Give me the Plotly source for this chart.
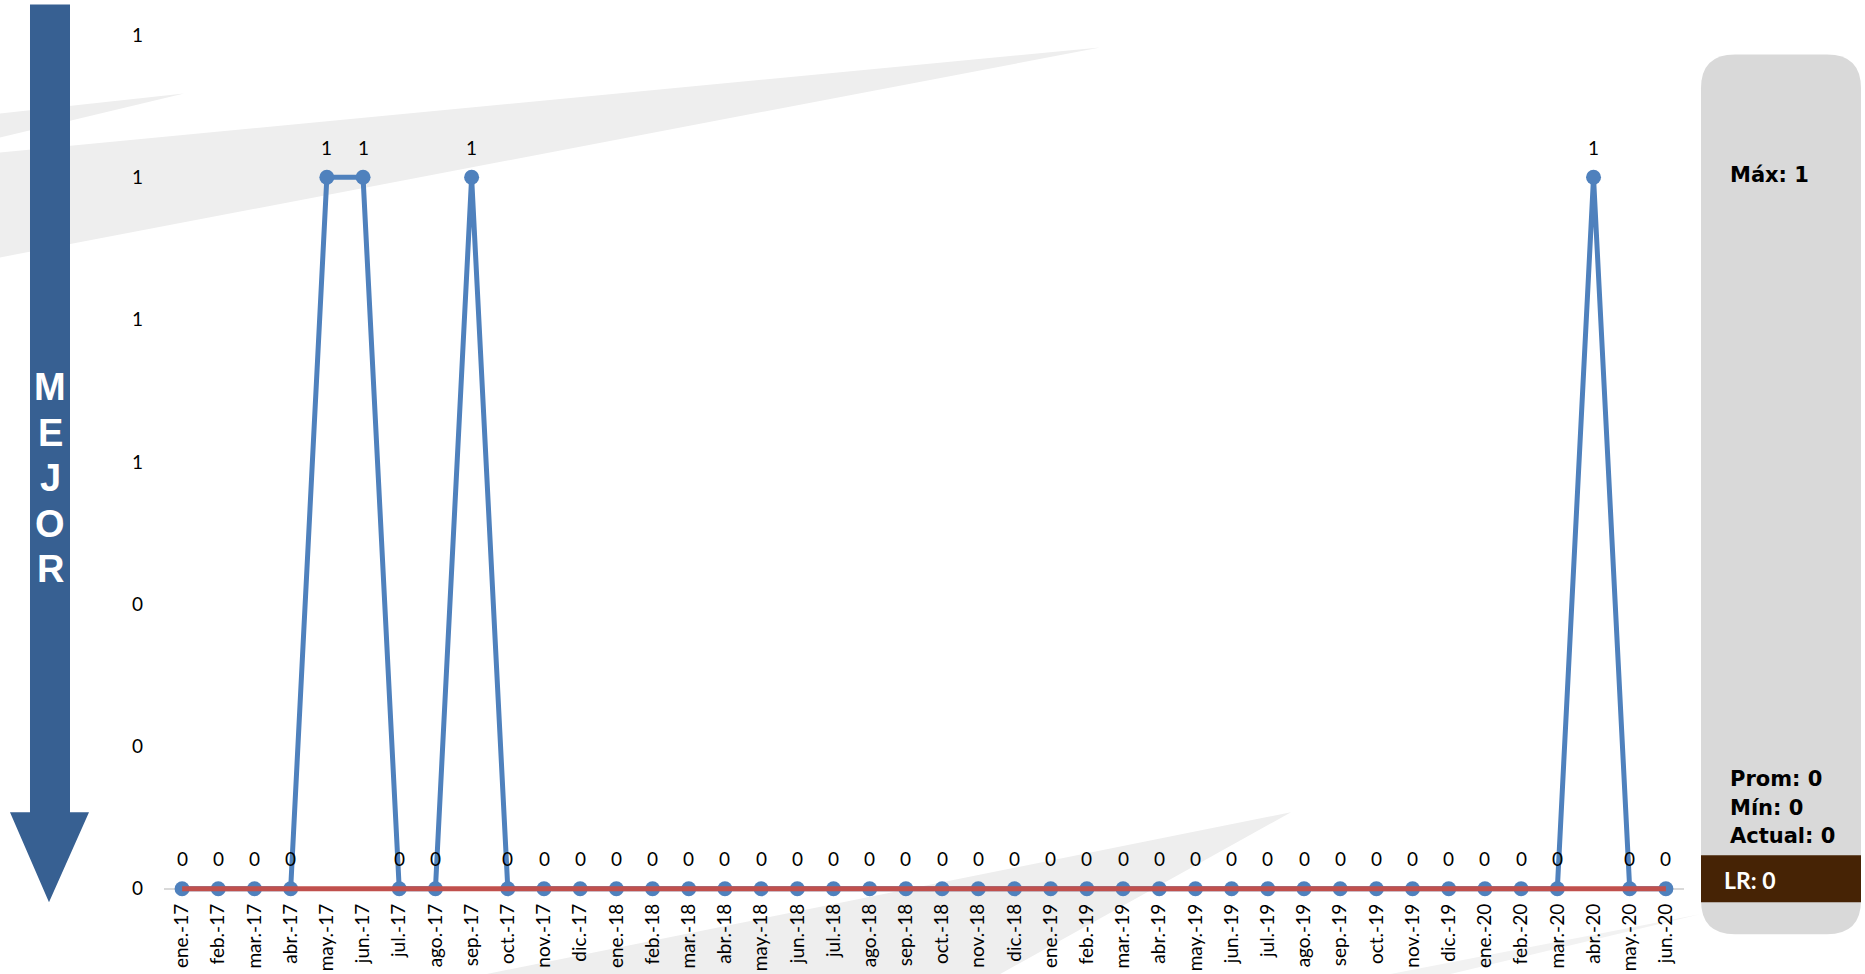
import plotly.graph_objects as go

# ---------------- data ----------------
meses = ["ene.-17", "feb.-17", "mar.-17", "abr.-17", "may.-17", "jun.-17", "jul.-17", "ago.-17",
         "sep.-17", "oct.-17", "nov.-17", "dic.-17",
         "ene.-18", "feb.-18", "mar.-18", "abr.-18", "may.-18", "jun.-18", "jul.-18", "ago.-18",
         "sep.-18", "oct.-18", "nov.-18", "dic.-18",
         "ene.-19", "feb.-19", "mar.-19", "abr.-19", "may.-19", "jun.-19", "jul.-19", "ago.-19",
         "sep.-19", "oct.-19", "nov.-19", "dic.-19",
         "ene.-20", "feb.-20", "mar.-20", "abr.-20", "may.-20", "jun.-20"]
valores = [0, 0, 0, 0, 1, 1, 0, 0, 1, 0, 0, 0,
           0, 0, 0, 0, 0, 0, 0, 0, 0, 0, 0, 0,
           0, 0, 0, 0, 0, 0, 0, 0, 0, 0, 0, 0,
           0, 0, 0, 1, 0, 0]
limite = [0, 0, 0, 0, 0, 0, 0, 0, 0, 0, 0, 0,
          0, 0, 0, 0, 0, 0, 0, 0, 0, 0, 0, 0,
          0, 0, 0, 0, 0, 0, 0, 0, 0, 0, 0, 0,
          0, 0, 0, 0, 0, 0]
ytick_vals = [0, 0.2, 0.4, 0.6, 0.8, 1.0, 1.2]
ytick_text = ["0", "0", "0", "1", "1", "1", "1"]
stats_top = "Máx: 1"
stats_bottom = ["Prom: 0", "Mín: 0", "Actual: 0"]
lr_text = "LR: 0"
arrow_word = ["M", "E", "J", "O", "R"]

# ---------------- layout geometry (pixels) ----------------
W, H = 1865, 974
Y_MIN, Y_MAX = -0.02, 1.2
L, R, T = 164, 1684, 34.5
ZERO_PX = 888.6
B = ZERO_PX + (ZERO_PX - T) / Y_MAX * (0 - Y_MIN)


def fx(p):
    return (p - L) / (R - L)


def fy(p):
    return (B - p) / (B - T)


def poly(points):
    return "M " + " L ".join(f"{fx(x):.5f},{fy(y):.5f}" for x, y in points) + " Z"


BLUE = "#4F81BD"
RED = "#C0504D"
WEDGE = "#EEEEEE"

fig = go.Figure()
fig.add_trace(go.Scatter(
    x=meses, y=valores, mode="lines+markers",
    line=dict(color=BLUE, width=5),
    marker=dict(color=BLUE, size=15),
    cliponaxis=False, showlegend=False, hoverinfo="x+y"))
fig.add_trace(go.Scatter(
    x=meses, y=limite, mode="lines",
    line=dict(color=RED, width=5),
    cliponaxis=False, showlegend=False, hoverinfo="x+y"))

annotations = []
for m, v in zip(meses, valores):
    annotations.append(dict(x=m, y=v, xref="x", yref="y", text=str(int(round(v))),
                            showarrow=False, yshift=30, xanchor="center", yanchor="middle",
                            font=dict(family="Lato", size=19, color="#000000")))

shapes = []
# background swooshes
shapes.append(dict(type="path", xref="paper", yref="paper", layer="below", line_width=0,
                   fillcolor=WEDGE, path=poly([(0, 113), (184, 93), (0, 137)])))
shapes.append(dict(type="path", xref="paper", yref="paper", layer="below", line_width=0,
                   fillcolor=WEDGE, path=poly([(0, 152), (1100, 47), (0, 257)])))
shapes.append(dict(type="path", xref="paper", yref="paper", layer="below", line_width=0,
                   fillcolor=WEDGE, path=poly([(486, 974), (1291, 812), (1000, 974)])))
shapes.append(dict(type="path", xref="paper", yref="paper", layer="below", line_width=0,
                   fillcolor="#F2F2F2", path=poly([(1390, 974), (1700, 914), (1450, 974)])))

# arrow
shapes.append(dict(type="path", xref="paper", yref="paper", layer="above", line_width=0,
                   fillcolor="#376092",
                   path=poly([(30, 4), (70, 4), (70, 812), (89, 812), (49, 902),
                              (10, 812), (30, 812)])))

# right panel (rounded rectangle)
px0, px1, py0, py1, rr = 1701, 1861, 54, 934, 34
path = (f"M {fx(px0 + rr):.5f},{fy(py0):.5f} L {fx(px1 - rr):.5f},{fy(py0):.5f} "
        f"Q {fx(px1):.5f},{fy(py0):.5f} {fx(px1):.5f},{fy(py0 + rr):.5f} "
        f"L {fx(px1):.5f},{fy(py1 - rr):.5f} "
        f"Q {fx(px1):.5f},{fy(py1):.5f} {fx(px1 - rr):.5f},{fy(py1):.5f} "
        f"L {fx(px0 + rr):.5f},{fy(py1):.5f} "
        f"Q {fx(px0):.5f},{fy(py1):.5f} {fx(px0):.5f},{fy(py1 - rr):.5f} "
        f"L {fx(px0):.5f},{fy(py0 + rr):.5f} "
        f"Q {fx(px0):.5f},{fy(py0):.5f} {fx(px0 + rr):.5f},{fy(py0):.5f} Z")
shapes.append(dict(type="path", xref="paper", yref="paper", layer="above", line_width=0,
                   fillcolor="#D9D9D9", path=path))
shapes.append(dict(type="rect", xref="paper", yref="paper", layer="above", line_width=0,
                   fillcolor="#462305", x0=fx(px0), x1=fx(px1), y0=fy(902), y1=fy(855)))

# arrow letters
for i, ch in enumerate(arrow_word):
    annotations.append(dict(x=fx(50), y=fy(387 + i * 45.5), xref="paper", yref="paper",
                            text=f"<b>{ch}</b>", showarrow=False, xanchor="center",
                            yanchor="middle",
                            font=dict(family="Liberation Sans", size=38, color="white")))

# panel texts
annotations.append(dict(x=fx(1728), y=fy(175), xref="paper", yref="paper",
                        text=f"<b>{stats_top}</b>", showarrow=False, xanchor="left",
                        yanchor="middle", font=dict(family="DejaVu Sans", size=21, color="black")))
for i, s in enumerate(stats_bottom):
    annotations.append(dict(x=fx(1728), y=fy(779 + i * 28.5), xref="paper", yref="paper",
                            text=f"<b>{s}</b>", showarrow=False, xanchor="left",
                            yanchor="middle",
                            font=dict(family="DejaVu Sans", size=21, color="black")))
annotations.append(dict(x=fx(1722), y=fy(880), xref="paper", yref="paper",
                        text=f"<b>{lr_text}</b>", showarrow=False, xanchor="left",
                        yanchor="middle", font=dict(family="Lato", size=23, color="white")))

fig.update_layout(
    width=W, height=H, autosize=False,
    margin=dict(l=L, r=W - R, t=T, b=H - B, pad=0),
    paper_bgcolor="white", plot_bgcolor="rgba(0,0,0,0)",
    showlegend=False,
    shapes=shapes, annotations=annotations,
    xaxis=dict(type="category", range=[-0.5, len(meses) - 0.5], showgrid=False,
               zeroline=False, showline=False,
               tickangle=-90, ticks="", ticklabelstandoff=-4,
               tickfont=dict(family="Lato", size=19, color="black"), automargin=False),
    yaxis=dict(range=[Y_MIN, Y_MAX], tickvals=ytick_vals, ticktext=ytick_text, showgrid=False,
               zeroline=True, zerolinecolor="#D9D9D9", zerolinewidth=2,
               showline=False, ticks="", ticklabelstandoff=20,
               tickfont=dict(family="Lato", size=19, color="black"), automargin=False),
)

fig.write_html("out.html", config={"displayModeBar": False},
               post_script="document.body.style.margin='0';document.body.style.overflow='hidden';")
